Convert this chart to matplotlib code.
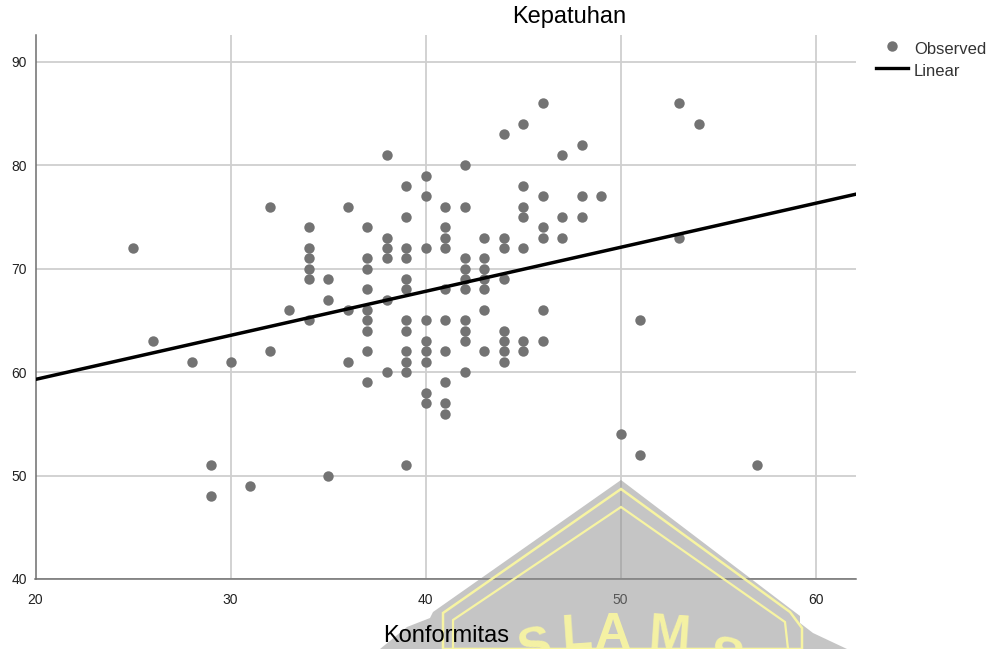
import matplotlib
matplotlib.use("Agg")
import matplotlib.pyplot as plt
from matplotlib.patches import Polygon

plt.rcParams['font.family'] = ['Liberation Sans', 'DejaVu Sans']

title = "Kepatuhan"
xlabel = "Konformitas"
x_ticks = [20, 30, 40, 50, 60]
y_ticks = [40, 50, 60, 70, 80, 90]
legend_labels = ["Observed", "Linear"]

columns = {
    25: [72], 26: [63], 28: [61], 29: [51, 48], 30: [61], 31: [49], 32: [76, 62], 33: [66],
    34: [74, 72, 71, 70, 69, 65], 35: [69, 67, 50], 36: [76, 66, 61],
    37: [74, 71, 70, 68, 66, 65, 64, 62, 59], 38: [81, 73, 72, 71, 67, 60],
    39: [78, 75, 72, 71, 69, 68, 65, 64, 62, 61, 60, 51],
    40: [79, 77, 72, 65, 63, 62, 61, 58, 57],
    41: [76, 74, 73, 72, 68, 65, 62, 59, 57, 56],
    42: [80, 76, 71, 70, 69, 68, 65, 64, 63, 60],
    43: [73, 71, 70, 69, 68, 66, 62], 44: [83, 73, 72, 69, 64, 63, 62, 61],
    45: [84, 78, 76, 75, 72, 63, 62], 46: [86, 77, 74, 73, 66, 63],
    47: [81, 75, 73], 48: [82, 77, 75], 49: [77], 50: [54], 51: [65, 52],
    53: [86, 73], 54: [84], 57: [51],
}
obs_x = [k for k, v in columns.items() for _ in v]
obs_y = [y for v in columns.values() for y in v]
fit_x = [20, 62.05]
fit_y = [59.3, 77.2]

W, H = 988, 649
fig = plt.figure(figsize=(W / 100, H / 100), dpi=100, facecolor='white')
L, R, T, B = 35.5, 855.5, 35, 579
ax = fig.add_axes([L / W, 1 - B / H, (R - L) / W, (B - T) / H])
ax.set_xlim(20, 62.05)
ax.set_ylim(40, 92.6)
ax.set_xticks(x_ticks)
ax.set_yticks(y_ticks)
ax.grid(True, color='#cfcfcf', lw=1.3, zorder=0)
ax.set_axisbelow(True)
for s in ['top', 'right']:
    ax.spines[s].set_visible(False)
for s in ['left', 'bottom']:
    ax.spines[s].set_color('#6e6e6e')
    ax.spines[s].set_linewidth(1.1)
ax.tick_params(length=0, labelsize=10, colors='#222222')
ax.tick_params(axis='x', pad=10)
ax.tick_params(axis='y', pad=6)

ax.plot(obs_x, obs_y, 'o', color='#737373', ms=7.5, mew=0, zorder=3, clip_on=False, label=legend_labels[0])
ax.plot(fit_x, fit_y, color='black', lw=2.5, zorder=4, label=legend_labels[1])

fig.text(569 / W, 1 - 17 / H, title, fontsize=17, ha='center', va='center', color='black', zorder=20)
fig.text(446 / W, 1 - 636 / H, xlabel, fontsize=17, ha='center', va='center', color='black', zorder=20)

# legend
lx = fig.add_axes([0, 0, 1, 1], facecolor='none')
lx.set_xlim(0, W)
lx.set_ylim(H, 0)
lx.axis('off')
lx.plot([892], [46], 'o', color='#737373', ms=7.5, mew=0)
lx.plot([876, 908], [68, 68], color='black', lw=2.4)
lx.text(914, 49, legend_labels[0], fontsize=12, va='center', color='#333333')
lx.text(914, 71, legend_labels[1], fontsize=12, va='center', color='#333333')

# watermark seal along the bottom edge
lx.add_patch(Polygon([(621, 480), (800, 616), (800, 623), (813, 633), (847, 649),
                      (380, 649), (407, 627), (430, 618), (433, 612)],
                     closed=True, fc='#8c8c8c', ec='none', alpha=0.5, zorder=5))
lx.add_patch(Polygon([(621, 489), (790, 612), (802, 628), (802, 649), (443, 649), (443, 613)],
                     closed=True, fc='none', ec='#faf7a0', lw=1.8, alpha=0.95, zorder=6))
lx.add_patch(Polygon([(621, 507), (785, 622), (788, 649), (453, 649), (453, 620)],
                     closed=True, fc='none', ec='#faf7a0', lw=1.6, alpha=0.95, zorder=6))
for txt, xp, yp, rot in [("S", 538, 662, 12), ("L", 578, 649, 4), ("A", 613, 648, 0),
                         ("M", 668, 649, -4), ("S", 722, 672, -14)]:
    lx.text(xp, yp, txt, fontsize=36, fontweight='bold', color='#faf7a0', alpha=0.9,
            ha='center', va='baseline', rotation=rot, rotation_mode='anchor', zorder=7, clip_on=True)

fig.savefig('out.png', dpi=100)
